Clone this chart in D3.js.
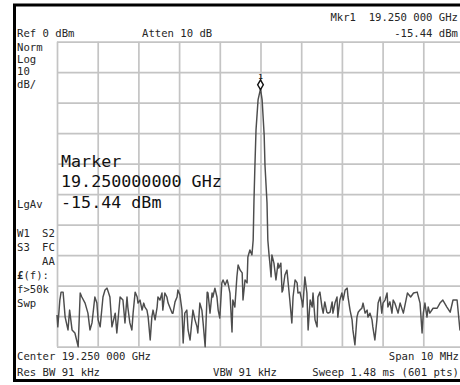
<!DOCTYPE html>
<html>
<head>
<meta charset="utf-8">
<script src="https://cdn.jsdelivr.net/npm/d3@7"></script>
<style>
  body { margin: 0; background: #fff; }
  text { font-family: "DejaVu Sans Mono", monospace; fill: #262626; }
</style>
</head>
<body>
<script>
// Trace: frequency offset from centre (MHz) and level (dBm)
const freqOffsets = [
  -5.00, -4.98, -4.93, -4.90, -4.85, -4.80, -4.73, -4.69, -4.63, -4.56,
  -4.48, -4.43, -4.39, -4.31, -4.24, -4.19, -4.14, -4.07, -4.02, -3.99,
  -3.94, -3.87, -3.82, -3.77, -3.70, -3.65, -3.57, -3.53, -3.45, -3.38,
  -3.33, -3.28, -3.26, -3.21, -3.16, -3.13, -3.08, -3.03, -3.01, -2.96,
  -2.91, -2.87, -2.84, -2.79, -2.76, -2.71, -2.67, -2.64, -2.59, -2.54,
  -2.52, -2.47, -2.42, -2.40, -2.35, -2.30, -2.27, -2.17, -2.15, -2.10,
  -2.05, -2.03, -1.98, -1.93, -1.90, -1.86, -1.81, -1.78, -1.73, -1.66,
  -1.61, -1.56, -1.54, -1.49, -1.44, -1.41, -1.36, -1.31, -1.29, -1.24,
  -1.19, -1.17, -1.12, -1.07, -1.04, -1.00, -0.95, -0.92, -0.87, -0.82,
  -0.80, -0.75, -0.70, -0.68, -0.63, -0.58, -0.55, -0.50, -0.45, -0.43,
  -0.38, -0.33, -0.31, -0.26, -0.21, -0.18, -0.16, -0.14, -0.11, -0.06,
   0.00,  0.04,  0.09,  0.11,  0.16,  0.18,  0.21,  0.23,  0.26,  0.28,
   0.33,  0.38,  0.43,  0.45,  0.50,  0.53,  0.55,  0.60,  0.65,  0.68,
   0.72,  0.77,  0.80,  0.85,  0.90,  0.92,  0.97,  1.02,  1.04,  1.09,
   1.14,  1.17,  1.22,  1.27,  1.29,  1.34,  1.39,  1.41,  1.46,  1.51,
   1.54,  1.58,  1.63,  1.66,  1.71,  1.76,  1.78,  1.83,  1.88,  1.90,
   1.95,  2.00,  2.03,  2.08,  2.13,  2.15,  2.20,  2.25,  2.27,  2.32,
   2.37,  2.40,  2.44,  2.49,  2.52,  2.57,  2.62,  2.64,  2.69,  2.74,
   2.76,  2.81,  2.86,  2.89,  2.94,  2.98,  3.01,  3.06,  3.11,  3.13,
   3.18,  3.23,  3.26,  3.30,  3.38,  3.43,  3.51,  3.61,  3.69,  3.76,
   3.85,  3.92,  3.97,  4.00,  4.04,  4.09,  4.12,  4.16,  4.24,  4.34,
   4.41,  4.48,  4.58,  4.66,  4.73,  4.83,  4.90,  5.00
];
const levels = [
  -89.6, -93.5, -84.7, -82.1, -82.1, -90.3, -94.5, -88.0, -94.5, -95.5,
  -100.0, -82.4, -83.7, -85.7, -89.0, -94.5, -92.2, -83.7, -85.7, -91.2,
  -93.5, -83.7, -81.4, -80.8, -83.7, -93.5, -89.0, -95.5, -83.7, -84.7,
  -92.2, -83.7, -87.0, -92.2, -94.5, -89.0, -82.1, -83.7, -85.7, -84.7,
  -88.0, -85.7, -87.0, -88.0, -90.3, -97.8, -90.3, -88.0, -91.2, -87.0,
  -83.7, -84.7, -82.4, -88.0, -82.4, -83.7, -85.7, -89.0, -89.0, -85.3,
  -83.7, -81.4, -83.0, -88.0, -98.8, -89.0, -88.0, -94.5, -97.8, -88.0,
  -91.2, -93.5, -95.5, -85.7, -88.0, -92.2, -100.0, -82.1, -82.4, -89.0,
  -82.4, -83.7, -80.8, -83.7, -88.0, -90.6, -79.1, -78.1, -79.8, -78.1,
  -79.1, -82.4, -95.2, -84.7, -87.0, -77.1, -73.2, -74.9, -75.8, -84.7,
  -78.1, -79.1, -70.6, -68.3, -69.9, -65.0, -51.9, -42.1, -28.9, -19.1,
  -15.44, -19.1, -30.6, -40.4, -52.9, -65.0, -69.9, -72.6, -77.1, -69.9,
  -72.6, -78.1, -72.6, -74.2, -72.6, -82.1, -81.4, -76.5, -74.9, -79.1,
  -84.7, -92.2, -83.7, -78.1, -79.1, -82.4, -82.1, -85.3, -87.0, -77.1,
  -82.4, -94.5, -84.7, -87.0, -82.4, -91.2, -93.5, -83.7, -82.1, -87.0,
  -89.0, -85.3, -88.7, -89.0, -88.7, -85.3, -89.0, -85.7, -83.7, -90.3,
  -84.7, -82.4, -84.7, -81.4, -80.8, -83.7, -88.0, -91.2, -94.5, -99.4,
  -90.3, -88.7, -88.0, -87.4, -85.7, -89.0, -88.0, -90.3, -89.0, -91.2,
  -93.5, -97.8, -91.2, -85.7, -83.7, -89.0, -85.7, -84.7, -82.4, -87.0,
  -85.3, -89.0, -84.7, -85.7, -89.0, -85.7, -89.0, -82.4, -83.7, -82.4,
  -82.1, -85.7, -95.5, -89.0, -85.7, -90.3, -87.0, -89.0, -87.4, -87.4,
  -85.7, -84.7, -87.0, -88.7, -84.7, -84.7, -94.5, -88.0
];

const markerFreqOffset = 0;
const markerLevel = -15.44;

const headerLeft = ["Ref 0 dBm", "Atten 10 dB"];
const headerRight = ["Mkr1  19.250 000 GHz", "-15.44 dBm"];
const scaleLabels = ["Norm", "Log", "10", "dB/"];
const statusLabels = [["W1", "S2"], ["S3", "FC"], ["", "AA"], ["£(f):", ""], ["f>50k", ""], ["Swp", ""]];
const markerLines = ["Marker", "19.250000000 GHz", "-15.44 dBm"];
const footerLines = ["Center 19.250 000 GHz", "Span 10 MHz", "Res BW 91 kHz", "VBW 91 kHz", "Sweep 1.48 ms (601 pts)"];

const W = 460, H = 385;
const grid = { left: 57, right: 464, top: 41.7, bottom: 346.7 };

const svg = d3.select("body").append("svg")
  .attr("width", W)
  .attr("height", H);

// Scales: 10 divisions each way
let x = d3.scaleLinear().domain([-5, 5]).range([grid.left, grid.right]);
let y = d3.scaleLinear().domain([-100, 0]).range([grid.bottom, grid.top]);

// Grid via axes
svg.append("g")
  .attr("class", "grid")
  .attr("transform", "translate(0," + grid.bottom + ")")
  .call(d3.axisBottom(x).tickValues(d3.range(-5, 5.01, 1)).tickSize(-(grid.bottom - grid.top)).tickFormat(""))
  .call(g => g.select(".domain").remove());

svg.append("g")
  .attr("class", "grid")
  .attr("transform", "translate(" + grid.left + ",0)")
  .call(d3.axisLeft(y).tickValues(d3.range(-100, 0.1, 10)).tickSize(-(grid.right - grid.left)).tickFormat(""))
  .call(g => g.select(".domain").remove());

svg.selectAll(".grid line")
  .attr("stroke", "#c4c4c4")
  .attr("stroke-width", 1.7);

// Trace
const trace = freqOffsets.map((f, i) => ({ f, v: levels[i] }));
svg.append("path")
  .datum(trace)
  .attr("fill", "none")
  .attr("stroke", "#4d4d4d")
  .attr("stroke-width", 1.45)
  .attr("stroke-linejoin", "round")
  .attr("d", d3.line().x(d => x(d.f)).y(d => y(d.v)));

// Marker diamond + label
const mx = x(markerFreqOffset), my = y(markerLevel) - 4;
svg.append("path")
  .attr("d", d3.symbol().type(d3.symbolDiamond).size(28)())
  .attr("transform", "translate(" + mx + "," + my + ")")
  .attr("fill", "#fff")
  .attr("stroke", "#111")
  .attr("stroke-width", 1.4);
svg.append("text")
  .attr("x", mx)
  .attr("y", my - 6)
  .attr("text-anchor", "middle")
  .style("font-size", "7px")
  .style("font-weight", "bold")
  .text("1");

// Header text
svg.append("text").attr("x", 17).attr("y", 37).style("font-size", "10.6px").text(headerLeft[0]);
svg.append("text").attr("x", 142).attr("y", 37).style("font-size", "10.6px").text(headerLeft[1]);
svg.append("text").attr("x", 458).attr("y", 21).attr("text-anchor", "end").style("font-size", "10.6px")
  .attr("xml:space", "preserve").text(headerRight[0]);
svg.append("text").attr("x", 458).attr("y", 37).attr("text-anchor", "end").style("font-size", "10.6px").text(headerRight[1]);

// Left column labels
svg.selectAll(".scale")
  .data(scaleLabels)
  .enter().append("text")
  .attr("x", 17)
  .attr("y", (d, i) => 50.5 + i * 12.4)
  .style("font-size", "10.6px")
  .text(d => d);

svg.append("text").attr("x", 17).attr("y", 208).style("font-size", "10.6px").text("LgAv");

const status = svg.selectAll(".status")
  .data(statusLabels)
  .enter().append("g");
status.append("text")
  .attr("x", 17)
  .attr("y", (d, i) => 237 + i * 14)
  .style("font-size", "10.6px")
  .each(function(d) {
    const t = d3.select(this);
    if (d[0].startsWith("£")) {
      t.append("tspan").style("font-weight", "bold").text("£");
      t.append("tspan").text(d[0].slice(1));
    } else {
      t.text(d[0]);
    }
  });
status.append("text")
  .attr("x", 42)
  .attr("y", (d, i) => 237 + i * 14)
  .style("font-size", "10.6px")
  .text(d => d[1]);

// Marker readout
svg.selectAll(".mk")
  .data(markerLines)
  .enter().append("text")
  .attr("x", 61)
  .attr("y", (d, i) => 166.5 + i * 20.5)
  .style("font-size", "16.7px")
  .style("fill", "#111")
  .text(d => d);

// Footer
svg.append("text").attr("x", 17).attr("y", 360).style("font-size", "10.6px").text(footerLines[0]);
svg.append("text").attr("x", 459).attr("y", 360).attr("text-anchor", "end").style("font-size", "10.6px").text(footerLines[1]);
svg.append("text").attr("x", 17).attr("y", 376).style("font-size", "10.6px").text(footerLines[2]);
svg.append("text").attr("x", 213).attr("y", 376).style("font-size", "10.6px").text(footerLines[3]);
svg.append("text").attr("x", 459).attr("y", 376).attr("text-anchor", "end").style("font-size", "10.6px").text(footerLines[4]);

// Screen frame
svg.append("rect")
  .attr("x", 14.5)
  .attr("y", 5)
  .attr("width", 470)
  .attr("height", 375.5)
  .attr("fill", "none")
  .attr("stroke", "#000")
  .attr("stroke-width", 3);
</script>
</body>
</html>
